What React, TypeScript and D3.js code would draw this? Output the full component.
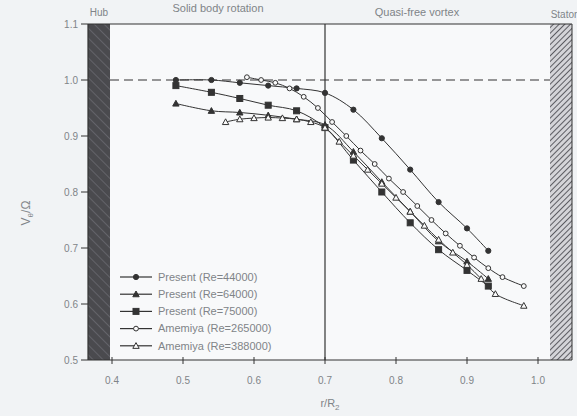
import React from 'react';
import * as d3 from 'd3';

// r/R2, Vtheta/Omega r
const re44000: [number, number][] = [
  [0.49, 1.0], [0.54, 1.0], [0.58, 0.995], [0.62, 0.99], [0.66, 0.985], [0.70, 0.977],
  [0.74, 0.947], [0.78, 0.896], [0.82, 0.84], [0.86, 0.782], [0.90, 0.735], [0.93, 0.695],
];
const re64000: [number, number][] = [
  [0.49, 0.958], [0.54, 0.945], [0.58, 0.942], [0.62, 0.937], [0.66, 0.93], [0.70, 0.92],
  [0.74, 0.872], [0.78, 0.818], [0.82, 0.765], [0.86, 0.712], [0.90, 0.676], [0.93, 0.645],
];
const re75000: [number, number][] = [
  [0.49, 0.99], [0.54, 0.978], [0.58, 0.967], [0.62, 0.955], [0.66, 0.945], [0.70, 0.915],
  [0.74, 0.857], [0.78, 0.8], [0.82, 0.745], [0.86, 0.697], [0.90, 0.66], [0.93, 0.632],
];
const am265000: [number, number][] = [
  [0.59, 1.005], [0.61, 1.0], [0.63, 0.995], [0.65, 0.985], [0.67, 0.97], [0.69, 0.95],
  [0.71, 0.925], [0.73, 0.9], [0.75, 0.874], [0.77, 0.85], [0.79, 0.824], [0.81, 0.8],
  [0.83, 0.775], [0.85, 0.75], [0.87, 0.726], [0.89, 0.704], [0.91, 0.683], [0.93, 0.664],
  [0.95, 0.648], [0.98, 0.632],
];
const am388000: [number, number][] = [
  [0.56, 0.925], [0.58, 0.93], [0.60, 0.932], [0.62, 0.933], [0.64, 0.932], [0.66, 0.93],
  [0.68, 0.925], [0.70, 0.915], [0.72, 0.89], [0.74, 0.865], [0.76, 0.84], [0.78, 0.815],
  [0.80, 0.79], [0.82, 0.765], [0.84, 0.74], [0.86, 0.715], [0.88, 0.692], [0.90, 0.67],
  [0.92, 0.645], [0.94, 0.618], [0.98, 0.597],
];

const seriesNames = [
  'Present (Re=44000)', 'Present (Re=64000)', 'Present (Re=75000)',
  'Amemiya (Re=265000)', 'Amemiya (Re=388000)',
];
const seriesData = [re44000, re64000, re75000, am265000, am388000];
const markers = ['circle', 'triangle', 'square', 'ocircle', 'otriangle'];

const xTicks = [0.4, 0.5, 0.6, 0.7, 0.8, 0.9, 1.0];
const yTicks = [0.5, 0.6, 0.7, 0.8, 0.9, 1.0, 1.1];

const W = 577, H = 416;
const left = 88, right = 572, top = 24, bottom = 360;
const ink = '#333';
const textCol = '#808488';

function Marker({ kind, x, y }: { kind: string; x: number; y: number }) {
  const filled = !kind.startsWith('o');
  const fill = filled ? ink : '#fafafa';
  if (kind === 'circle' || kind === 'ocircle') {
    return <circle cx={x} cy={y} r={kind === 'circle' ? 2.6 : 2.4} fill={fill} stroke={ink} strokeWidth={1} />;
  }
  if (kind === 'square') {
    return <rect x={x - 3} y={y - 3} width={6} height={6} fill={fill} stroke={ink} strokeWidth={1} />;
  }
  const s = 3.2;
  return (
    <path d={`M${x},${y - s}L${x + s},${y + s * 0.8}L${x - s},${y + s * 0.8}Z`}
      fill={fill} stroke={ink} strokeWidth={1} />
  );
}

export default function App() {
  const x = d3.scaleLinear().domain([0.4, 1.0]).range([112, 538]);
  const y = d3.scaleLinear().domain([0.5, 1.1]).range([bottom, top]);
  const line = d3.line<[number, number]>()
    .x(d => x(d[0])).y(d => y(d[1]))
    .curve(d3.curveCatmullRom.alpha(0.5));

  const font = 'Liberation Sans, Arial, sans-serif';

  return (
    <svg width={W} height={H} style={{ position: 'fixed', left: 0, top: 0, background: '#f1f3f5' }}
      fontFamily={font}>
      <defs>
        <pattern id="hub" width="7" height="7" patternUnits="userSpaceOnUse" patternTransform="rotate(-45)">
          <rect width="7" height="7" fill="#4a4a4e" />
          <line x1="0" y1="0" x2="0" y2="7" stroke="#8a8a90" strokeWidth="0.8" />
        </pattern>
        <pattern id="stator" width="4" height="4" patternUnits="userSpaceOnUse" patternTransform="rotate(45)">
          <rect width="4" height="4" fill="#d4d4d8" />
          <line x1="0" y1="0" x2="0" y2="4" stroke="#5c5c62" strokeWidth="2" />
        </pattern>
      </defs>
      <rect x={left} y={top} width={right - left} height={bottom - top} fill="#f8f9fa" />
      <rect x={left} y={top} width={22} height={bottom - top} fill="url(#hub)" />
      <rect x={550} y={top} width={right - 550} height={bottom - top} fill="url(#stator)" />

      {/* frame */}
      <line x1={left} x2={right} y1={top} y2={top} stroke={ink} strokeWidth={1.2} />
      <line x1={left} x2={right} y1={bottom} y2={bottom} stroke={ink} strokeWidth={1.2} />
      <line x1={left} x2={left} y1={top} y2={bottom} stroke={ink} strokeWidth={1.2} />
      <line x1={right} x2={right} y1={top} y2={bottom} stroke={ink} strokeWidth={1} />

      {/* y axis */}
      {yTicks.map(t => (
        <g key={t}>
          <line x1={left - 7} x2={left} y1={y(t)} y2={y(t)} stroke={ink} />
          <text x={left - 10} y={y(t)} dy="0.35em" textAnchor="end" fontSize={10} fill={textCol}>{t.toFixed(1)}</text>
        </g>
      ))}
      {/* x axis */}
      {xTicks.map(t => (
        <g key={t}>
          <line x1={x(t)} x2={x(t)} y1={bottom - 3} y2={bottom + 4} stroke={ink} />
          <text x={x(t)} y={bottom + 24} textAnchor="middle" fontSize={10} fill={textCol}>{t.toFixed(1)}</text>
        </g>
      ))}

      {/* reference lines */}
      <line x1={x(0.7)} x2={x(0.7)} y1={top} y2={bottom} stroke={ink} strokeWidth={1.2} />
      <line x1={110} x2={550} y1={y(1.0)} y2={y(1.0)} stroke={ink} strokeWidth={1.2} strokeDasharray="9,5" />

      {/* series */}
      {seriesData.map((d, i) => (
        <g key={i}>
          <path d={line(d) || ''} fill="none" stroke={ink} strokeWidth={1} />
          {d.map((p, j) => <Marker key={j} kind={markers[i]} x={x(p[0])} y={y(p[1])} />)}
        </g>
      ))}

      {/* legend */}
      {seriesNames.map((n, i) => {
        const ly = 277 + i * 17.2;
        return (
          <g key={n}>
            <line x1={120} x2={152} y1={ly} y2={ly} stroke={ink} strokeWidth={1.2} />
            <Marker kind={markers[i]} x={136} y={ly} />
            <text x={158} y={ly} dy="0.35em" fontSize={11} fill={textCol}>{n}</text>
          </g>
        );
      })}

      {/* annotations */}
      <text x={99} y={16} textAnchor="middle" fontSize={10} fill={textCol}>Hub</text>
      <text x={218} y={12} textAnchor="middle" fontSize={11} fill={textCol}>Solid body rotation</text>
      <text x={417} y={16} textAnchor="middle" fontSize={11} fill={textCol}>Quasi-free vortex</text>
      <text x={564} y={18} textAnchor="middle" fontSize={10} fill={textCol}>Stator</text>

      <text transform="translate(30,213) rotate(-90)" textAnchor="middle" fontSize={12} fill={textCol}>
        V<tspan fontSize={8} dy="3">θ</tspan><tspan dy="-3">/Ω</tspan>
      </text>
      <text x={330} y={407} textAnchor="middle" fontSize={11} fill={textCol}>
        r/R<tspan fontSize={8} dy="3">2</tspan>
      </text>
    </svg>
  );
}
